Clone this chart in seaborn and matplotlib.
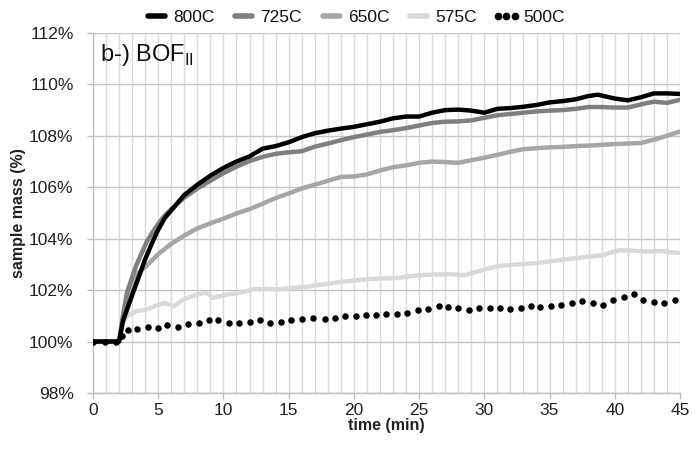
import numpy as np
import pandas as pd
import matplotlib
matplotlib.use("Agg")
import matplotlib.pyplot as plt
from matplotlib.lines import Line2D
from matplotlib.ticker import MultipleLocator, FuncFormatter
import seaborn as sns

# ---------------- data ----------------
t_800 = [0, 2.0, 2.3, 3.0, 3.5, 4.0, 4.5, 5.0, 5.5, 6.0, 7, 8, 9, 10, 11, 12, 13, 14, 15, 16, 17, 18, 19, 20,
         21, 22, 23, 24, 25, 26, 27, 28, 29, 30, 31, 32, 33, 34, 35, 36, 37, 38, 38.7, 40, 41, 42, 43, 44, 45]
m_800 = [100, 100, 100.8, 101.8, 102.5, 103.2, 103.8, 104.35, 104.8, 105.1, 105.7, 106.1, 106.45, 106.75, 107.0,
         107.2, 107.5, 107.6, 107.75, 107.95, 108.1, 108.2, 108.28, 108.35, 108.45, 108.55, 108.68, 108.75,
         108.75, 108.9, 109.0, 109.02, 108.98, 108.9, 109.05, 109.08, 109.13, 109.2, 109.3, 109.35, 109.42,
         109.55, 109.6, 109.45, 109.38, 109.5, 109.65, 109.65, 109.63]

t_725 = [0, 2.0, 2.3, 2.6, 3.0, 3.3, 3.7, 4.1, 4.5, 5.0, 5.5, 6, 7, 8, 9, 10, 11, 12, 13, 14, 15, 16, 17, 18, 19,
         20, 21, 22, 23, 24, 25, 26, 27, 28, 29, 30, 31, 32, 33, 34, 35, 36, 37, 38, 39, 40, 41, 42, 43, 44, 45]
m_725 = [100, 100, 101.0, 101.9, 102.5, 102.94, 103.4, 103.86, 104.2, 104.58, 104.9, 105.15, 105.6, 105.95,
         106.25, 106.55, 106.8, 107.02, 107.18, 107.3, 107.36, 107.4, 107.58, 107.7, 107.83, 107.95, 108.05,
         108.15, 108.22, 108.3, 108.4, 108.5, 108.55, 108.56, 108.6, 108.7, 108.8, 108.85, 108.9, 108.95,
         108.98, 109.0, 109.05, 109.12, 109.12, 109.1, 109.1, 109.22, 109.33, 109.28, 109.4]

t_650 = [0, 2.0, 2.3, 2.8, 3.3, 4.1, 5, 6, 7, 8, 9, 10, 11, 12, 13, 14, 15, 16, 17, 18, 19, 20, 21, 22, 23, 24,
         25, 26, 27, 28, 29, 30, 31, 32, 33, 34, 35, 36, 37, 38, 39, 40, 41, 42, 43, 44, 45]
m_650 = [100, 100, 101.0, 101.9, 102.6, 102.94, 103.4, 103.8, 104.12, 104.4, 104.6, 104.78, 104.98, 105.15,
         105.36, 105.58, 105.76, 105.95, 106.1, 106.25, 106.4, 106.42, 106.5, 106.65, 106.78, 106.85, 106.95,
         107.0, 106.98, 106.95, 107.05, 107.15, 107.26, 107.38, 107.48, 107.52, 107.55, 107.57, 107.6, 107.62,
         107.65, 107.68, 107.7, 107.72, 107.85, 108.0, 108.17]

t_575 = [0, 2.0, 2.3, 2.6, 3.3, 4.1, 4.7, 5.5, 6.2, 6.9, 8.0, 8.7, 9.2, 10.3, 11.3, 12.3, 13.3, 14.3, 15.4, 16.4,
         17.3, 18.2, 19.0, 20.7, 22.0, 23.3, 25.0, 26.0, 27.5, 28.5, 30.0, 31.0, 32.0, 34.0, 36.0, 38.0, 39.0,
         40.3, 41.5, 42.5, 43.5, 45.0]
m_575 = [100, 100, 100.7, 100.98, 101.18, 101.24, 101.37, 101.5, 101.37, 101.63, 101.83, 101.9, 101.7, 101.83,
         101.9, 102.03, 102.05, 102.03, 102.09, 102.13, 102.2, 102.26, 102.32, 102.41, 102.45, 102.47, 102.58,
         102.6, 102.62, 102.58, 102.8, 102.93, 102.98, 103.05, 103.18, 103.3, 103.35, 103.55, 103.53, 103.5,
         103.52, 103.44]

t_500 = [0, 0.9, 1.8, 2.2, 2.7, 3.4, 4.2, 5.0, 5.7, 6.55, 7.3, 8.1, 8.9, 9.6, 10.4, 11.2, 12.0, 12.8, 13.6, 14.4,
         15.2, 16.0, 16.9, 17.8, 18.56, 19.35, 20.14, 20.93, 21.72, 22.5, 23.3, 24.1, 24.9, 25.7, 26.5, 27.2,
         28.0, 28.8, 29.6, 30.4, 31.2, 32.0, 32.8, 33.6, 34.3, 35.1, 35.9, 36.7, 37.5, 38.3, 39.1, 39.9, 40.7,
         41.5, 42.2, 43.0, 43.8, 44.6]
m_500 = [100, 100, 100, 100.2, 100.45, 100.5, 100.56, 100.52, 100.65, 100.56, 100.69, 100.74, 100.82, 100.84,
         100.71, 100.71, 100.75, 100.82, 100.74, 100.77, 100.82, 100.88, 100.91, 100.87, 100.92, 100.98,
         101.01, 101.02, 101.05, 101.09, 101.07, 101.11, 101.22, 101.27, 101.37, 101.33, 101.31, 101.22,
         101.31, 101.31, 101.29, 101.27, 101.31, 101.37, 101.35, 101.40, 101.44, 101.50, 101.57, 101.50,
         101.44, 101.61, 101.73, 101.83, 101.63, 101.53, 101.50, 101.63]

series_names = ["800C", "725C", "650C", "575C", "500C"]
x_ticks = [0, 5, 10, 15, 20, 25, 30, 35, 40, 45]
y_ticks = [98, 100, 102, 104, 106, 108, 110, 112]

# ---------------- style ----------------
sns.set_theme(style="white")
plt.rcParams["font.family"] = ["Liberation Sans", "DejaVu Sans"]
plt.rcParams["mathtext.fontset"] = "custom"
plt.rcParams["mathtext.rm"] = "Liberation Sans"

fig = plt.figure(figsize=(6.97, 4.58), dpi=100)
ax = fig.add_axes([0.1334, 0.142, 0.8422, 0.786])

colors = {"800C": "#000000", "725C": "#7f7f7f", "650C": "#a6a6a6", "575C": "#d9d9d9", "500C": "#000000"}

line_data = {"800C": (t_800, m_800), "725C": (t_725, m_725), "650C": (t_650, m_650), "575C": (t_575, m_575)}
for name in ["575C", "650C", "725C", "800C"]:
    tt, mm = line_data[name]
    df = pd.DataFrame({"time": tt, "mass": mm})
    sns.lineplot(data=df, x="time", y="mass", ax=ax, color=colors[name], lw=3.2,
                 estimator=None, sort=False, zorder=3)

df5 = pd.DataFrame({"time": t_500, "mass": m_500})
sns.scatterplot(data=df5, x="time", y="mass", ax=ax, color="black", s=22, linewidth=0, zorder=4)

ax.set_xlim(0, 45)
ax.set_ylim(98, 112)
ax.set_xticks(x_ticks)
ax.set_yticks(y_ticks)
ax.xaxis.set_minor_locator(MultipleLocator(1))
ax.yaxis.set_major_formatter(FuncFormatter(lambda v, p: f"{v:.0f}%"))

ax.grid(which="major", axis="y", color="#c4c4c4", lw=1.0)
ax.grid(which="both", axis="x", color="#d9d9d9", lw=1.0)
ax.set_axisbelow(True)

for s in ["top", "right"]:
    ax.spines[s].set_visible(False)
for s in ["left", "bottom"]:
    ax.spines[s].set_color("#bfbfbf")
    ax.spines[s].set_linewidth(1.0)

ax.tick_params(axis="both", which="major", length=4, color="#bfbfbf", width=1, labelsize=12.5,
               labelcolor="#222222", direction="out", bottom=True, left=True)
ax.tick_params(axis="x", which="minor", length=0)
ax.tick_params(axis="x", pad=3)
ax.tick_params(axis="y", pad=10)

ax.set_xlabel("time (min)", fontsize=11.5, fontweight="bold", labelpad=0, color="#222222")
ax.set_ylabel("sample mass (%)", fontsize=11.5, fontweight="bold", labelpad=2, color="#222222")

ax.text(0.012, 0.975, r"b-) BOF$_{\mathrm{II}}$", transform=ax.transAxes, fontsize=17,
        va="top", ha="left", color="#111111")

handles = [
    Line2D([], [], color=colors["800C"], lw=4, solid_capstyle="round"),
    Line2D([], [], color=colors["725C"], lw=4, solid_capstyle="round"),
    Line2D([], [], color=colors["650C"], lw=4, solid_capstyle="round"),
    Line2D([], [], color=colors["575C"], lw=4, solid_capstyle="round"),
    Line2D([], [], color="black", lw=0, marker="o", markersize=4.5, linestyle="none"),
]
fig.legend(handles, series_names, loc="center", bbox_to_anchor=(0.507, 0.962), ncol=5, frameon=False,
           fontsize=12.5, handlelength=1.6, handletextpad=0.15, columnspacing=0.9, numpoints=3,
           labelcolor="#111111")

fig.savefig("out.png", dpi=100)
